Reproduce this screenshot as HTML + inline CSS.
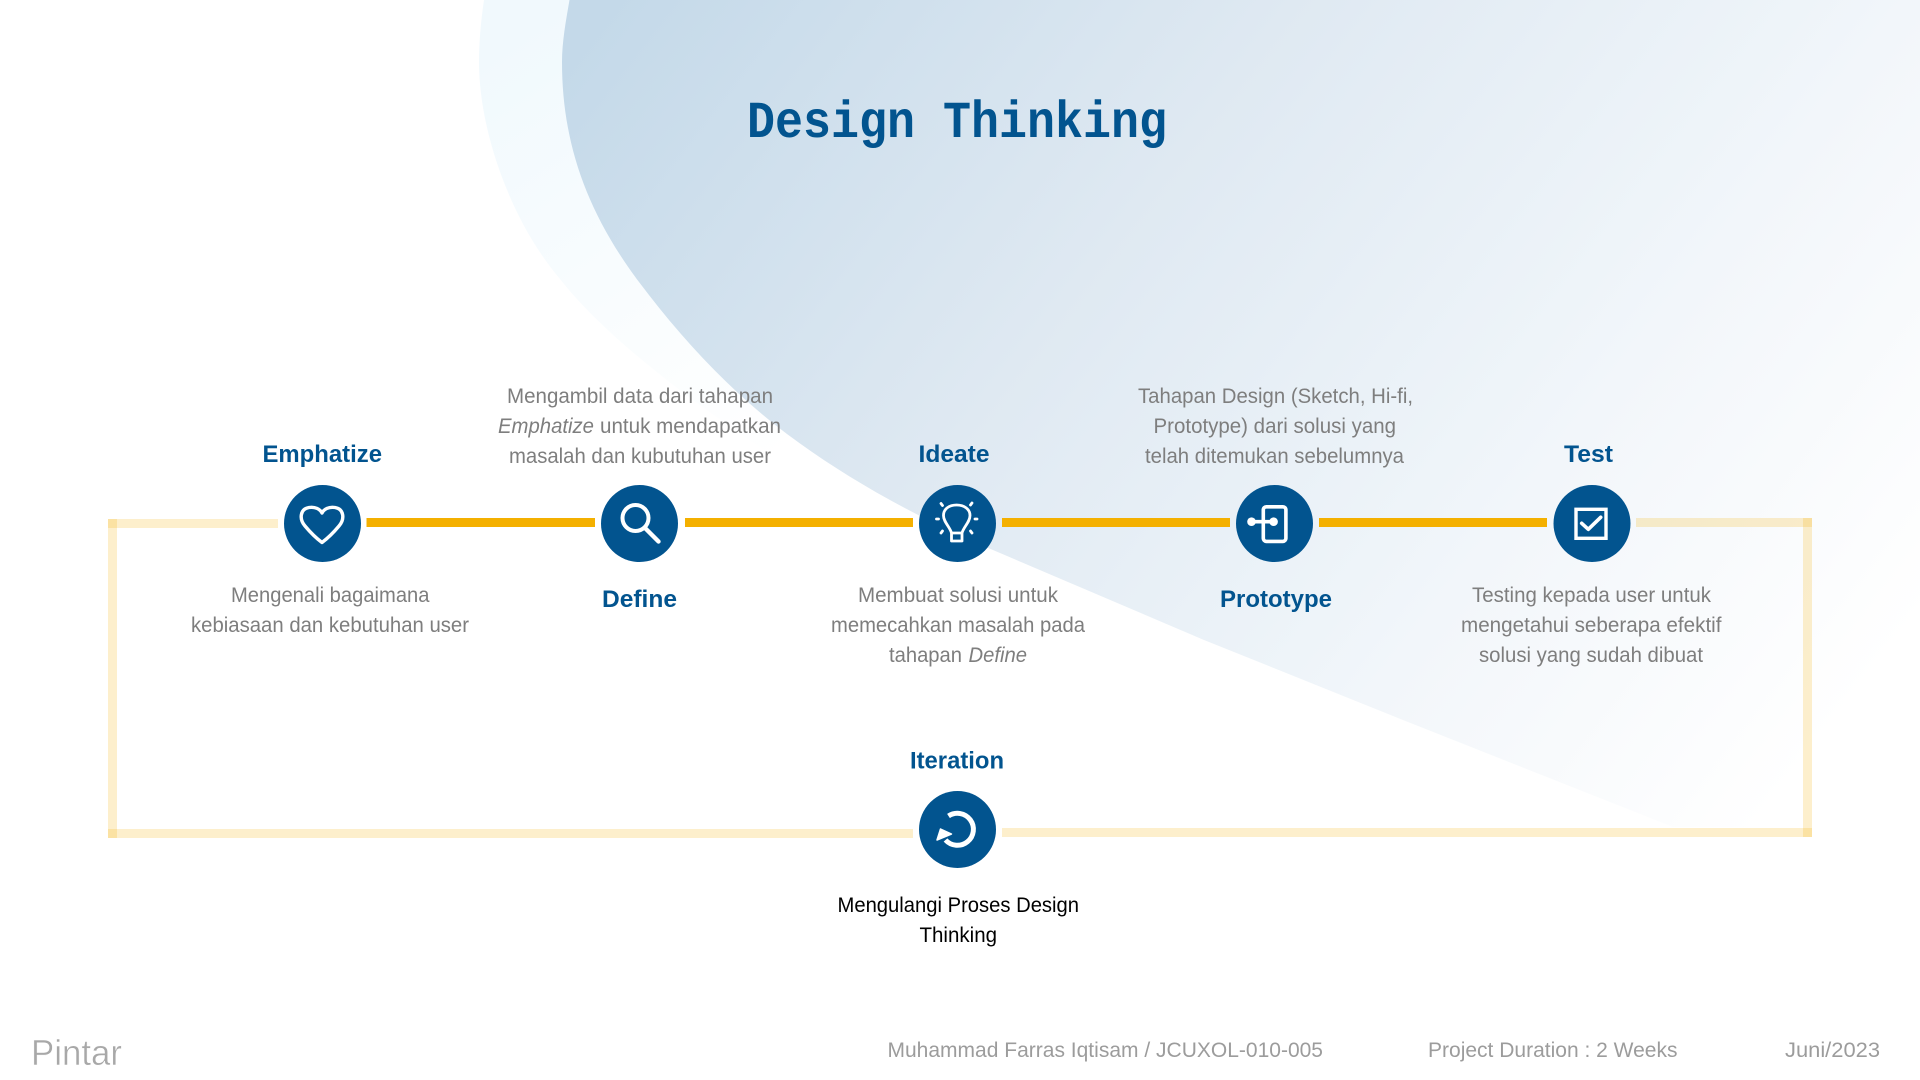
<!DOCTYPE html>
<html><head><meta charset="utf-8"><style>
html,body{margin:0;padding:0;background:#fff;width:1920px;height:1080px;overflow:hidden}
svg{display:block}
text{font-family:"Liberation Sans",sans-serif}
.d{font-size:21.5px;fill:#7e7e7e}
.i{font-style:italic}
.l{font-size:24.5px;font-weight:700;fill:#02548f}
.f{font-size:21px;fill:#9c9c9c}
.k{font-size:21.5px;fill:#000}
.ic{fill:none;stroke:#fff;stroke-linecap:round;stroke-linejoin:round}
</style></head><body>
<svg width="1920" height="1080" viewBox="0 0 1920 1080" xmlns="http://www.w3.org/2000/svg">
<defs>
<linearGradient id="g1" gradientUnits="userSpaceOnUse" x1="385" y1="297" x2="1501" y2="1159">
<stop offset="0" stop-color="#c4d9e9"/><stop offset=".382" stop-color="#dfe9f2"/><stop offset=".667" stop-color="#eef4f9"/><stop offset=".729" stop-color="#f2f6fa"/><stop offset="1" stop-color="#fff"/>
</linearGradient>
<linearGradient id="g2" gradientUnits="userSpaceOnUse" x1="480" y1="60" x2="760" y2="470">
<stop offset="0" stop-color="#f1f9fd"/><stop offset=".5" stop-color="#f8fcfe"/><stop offset="1" stop-color="#fff"/>
</linearGradient>
</defs>
<rect width="1920" height="1080" fill="#fff"/>
<path d="M484,0 C481,20 479,42 479,62 C479,130 510,220 560,279 C600,330 670,385 735,430 C780,462 820,485 860,510 L1000,553 L1000,0 Z" fill="url(#g2)"/>
<path d="M569.5,0 C566,20 562,42 562,62 C562,140 585,210 639,282 C681,338 731,392 787,434 C851,482 926,522 1000,553 L1204,640 L1408,722 L1673,827 L1920,827 L1920,0 Z" fill="url(#g1)"/>

<text x="747" y="137" textLength="420" lengthAdjust="spacingAndGlyphs" style="font-family:'Liberation Mono',monospace;font-size:52px;font-weight:700" fill="#02548f">Design Thinking</text>

<!-- pale frame -->
<g fill="#f4b000" fill-opacity=".2">
<rect x="108" y="519" width="170" height="9"/>
<rect x="108" y="519" width="9" height="319"/>
<rect x="108" y="829" width="805" height="9"/>
<rect x="1002" y="828" width="810" height="9"/>
<rect x="1803" y="518" width="9" height="319"/>
<rect x="1636" y="518" width="176" height="9"/>
</g>
<!-- strong connectors -->
<g fill="#f4b000">
<rect x="366.5" y="518" width="228.5" height="9"/>
<rect x="685" y="518" width="228" height="9"/>
<rect x="1002" y="518" width="228" height="9"/>
<rect x="1319" y="518" width="228" height="9"/>
</g>
<!-- circles -->
<g fill="#02548f">
<circle cx="322.5" cy="523.5" r="38.5"/>
<circle cx="639.5" cy="523.5" r="38.5"/>
<circle cx="957.5" cy="523.5" r="38.5"/>
<circle cx="1274.5" cy="523.5" r="38.5"/>
<circle cx="1592" cy="523.5" r="38.5"/>
<circle cx="957.5" cy="829.5" r="38.5"/>
</g>
<!-- heart -->
<path class="ic" stroke-width="3.4" d="M322,542.5 C316,538 310,532 305,526 C299,519 300,509 309,507.5 C315,506.5 320,509 322,513 C324,509 329,506.5 335,507.5 C344,509 345,519 339,526 C334,532 328,538 322,542.5 Z"/>
<!-- search -->
<circle class="ic" stroke-width="4" cx="635.5" cy="518" r="13"/>
<line class="ic" stroke-width="4.4" x1="645" y1="528" x2="658.5" y2="541.5"/>
<!-- bulb -->
<path class="ic" stroke-width="2.8" d="M951.5,533 C950,527 943.5,522 943.5,515.5 C943.5,509 949,505 956.6,505 C964,505 970,509 970,515.5 C970,522 963.5,527 962,533 Z M951.5,533 L951.5,541 L962,541 L962,533"/>
<g class="ic" stroke-width="2.8">
<line x1="936.5" y1="519" x2="938.5" y2="519"/><line x1="975" y1="519" x2="977" y2="519"/>
<line x1="941" y1="503.5" x2="942.5" y2="505.5"/><line x1="972" y1="503" x2="970.5" y2="505"/>
<line x1="941" y1="533" x2="942.5" y2="531"/><line x1="972" y1="533" x2="970.5" y2="531"/>
</g>
<!-- prototype -->
<rect class="ic" stroke-width="3.6" x="1263.3" y="506.8" width="22.6" height="34.6" rx="3"/>
<line class="ic" stroke-width="3.6" x1="1251" y1="521.7" x2="1273.6" y2="521.7"/>
<circle cx="1251.5" cy="521.7" r="4.3" fill="#fff"/><circle cx="1273.6" cy="521.7" r="4.3" fill="#fff"/>
<!-- test -->
<rect x="1576" y="509.3" width="30" height="29" fill="none" stroke="#fff" stroke-width="3.4"/>
<path class="ic" stroke-width="3.6" d="M1581.7,523.3 L1588.3,529.3 L1600.7,517.3"/>
<!-- iteration -->
<path class="ic" stroke-width="5" style="stroke-linecap:butt" d="M948.5,816 A16,16 0 1 1 945.5,840"/>
<path fill="#fff" stroke="#fff" stroke-width="1.5" stroke-linejoin="round" d="M937,840 L940.5,829 L951.5,834 Z"/>

<!-- labels -->
<g class="l">
<text x="262.5" y="462" textLength="119.5" lengthAdjust="spacingAndGlyphs">Emphatize</text>
<text x="602" y="607" textLength="75" lengthAdjust="spacingAndGlyphs">Define</text>
<text x="918.5" y="462" textLength="71" lengthAdjust="spacingAndGlyphs">Ideate</text>
<text x="1220" y="607" textLength="112" lengthAdjust="spacingAndGlyphs">Prototype</text>
<text x="1564" y="462" textLength="49" lengthAdjust="spacingAndGlyphs">Test</text>
<text x="910" y="768.5" textLength="94" lengthAdjust="spacingAndGlyphs">Iteration</text>
</g>
<!-- descriptions -->
<g class="d">
<text x="231" y="602" textLength="198.5" lengthAdjust="spacingAndGlyphs">Mengenali bagaimana</text>
<text x="191" y="632" textLength="278" lengthAdjust="spacingAndGlyphs">kebiasaan dan kebutuhan user</text>

<text x="507" y="403" textLength="266" lengthAdjust="spacingAndGlyphs">Mengambil data dari tahapan</text>
<text class="i" x="498" y="433" textLength="96" lengthAdjust="spacingAndGlyphs">Emphatize</text>
<text x="600" y="433" textLength="181" lengthAdjust="spacingAndGlyphs">untuk mendapatkan</text>
<text x="509" y="463" textLength="262" lengthAdjust="spacingAndGlyphs">masalah dan kubutuhan user</text>

<text x="858" y="602" textLength="200" lengthAdjust="spacingAndGlyphs">Membuat solusi untuk</text>
<text x="831" y="632" textLength="254" lengthAdjust="spacingAndGlyphs">memecahkan masalah pada</text>
<text x="889" y="662" textLength="73" lengthAdjust="spacingAndGlyphs">tahapan</text>
<text class="i" x="968.5" y="662" textLength="58.5" lengthAdjust="spacingAndGlyphs">Define</text>

<text x="1138" y="403" textLength="275" lengthAdjust="spacingAndGlyphs">Tahapan Design (Sketch, Hi-fi,</text>
<text x="1153.5" y="433" textLength="242.5" lengthAdjust="spacingAndGlyphs">Prototype) dari solusi yang</text>
<text x="1145" y="463" textLength="259" lengthAdjust="spacingAndGlyphs">telah ditemukan sebelumnya</text>

<text x="1472" y="602" textLength="239" lengthAdjust="spacingAndGlyphs">Testing kepada user untuk</text>
<text x="1461" y="632" textLength="260.5" lengthAdjust="spacingAndGlyphs">mengetahui seberapa efektif</text>
<text x="1479" y="662" textLength="224" lengthAdjust="spacingAndGlyphs">solusi yang sudah dibuat</text>
</g>
<g class="k">
<text x="837.5" y="912" textLength="241.5" lengthAdjust="spacingAndGlyphs">Mengulangi Proses Design</text>
<text x="919.5" y="942" textLength="77.5" lengthAdjust="spacingAndGlyphs">Thinking</text>
</g>
<!-- footer -->
<g class="f">
<text x="887.5" y="1057" textLength="435.5" lengthAdjust="spacingAndGlyphs">Muhammad Farras Iqtisam / JCUXOL-010-005</text>
<text x="1428" y="1057" textLength="249.5" lengthAdjust="spacingAndGlyphs">Project Duration : 2 Weeks</text>
<text x="1785" y="1057" textLength="95" lengthAdjust="spacingAndGlyphs">Juni/2023</text>
</g>
<text x="31" y="1065" textLength="91" lengthAdjust="spacingAndGlyphs" style="font-size:36px;paint-order:fill;stroke:#fff;stroke-width:.5" fill="#a8a8a8">Pintar</text>
</svg>
</body></html>
